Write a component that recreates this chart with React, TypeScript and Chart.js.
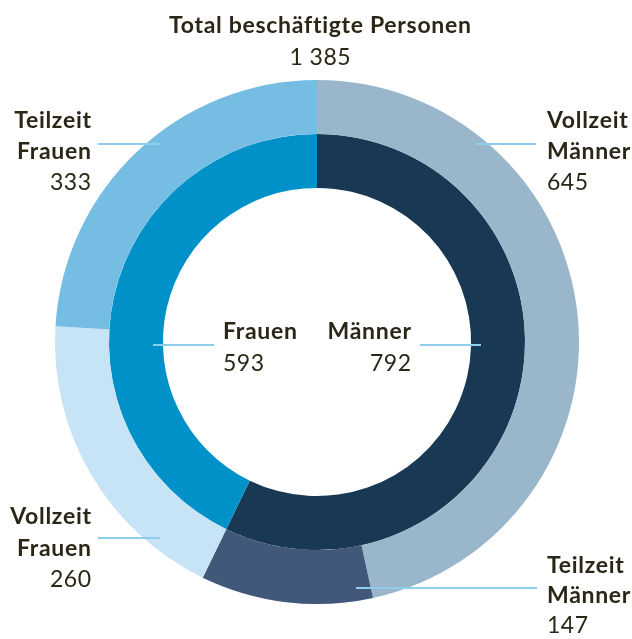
import React, { useEffect, useRef } from "react";
import { Chart, registerables } from "chart.js";

Chart.register(...registerables);

// ---- data ----
const titleText = "Total beschäftigte Personen";
const outerCategories = ["Vollzeit Männer", "Teilzeit Männer", "Vollzeit Frauen", "Teilzeit Frauen"];
const outerValues = [645, 147, 260, 333];
const outerColors = ["#9ab6cb", "#42587a", "#c6e4f6", "#76bde3"];
const innerCategories = ["Männer", "Frauen"];
const innerValues = [792, 593];
const innerColors = ["#193853", "#0091c9"];

const fmt = (v: number) => {
  const s = String(v);
  return s.length > 3 ? s.slice(0, s.length - 3) + "\u00a0" + s.slice(-3) : s;
};
const total = outerValues.reduce((a, b) => a + b, 0);

const W = 632;
const H = 639;
const TEXT = "#2b2616";
const LINE = "#8fcdef";
const FONT = "Lato, 'Open Sans', sans-serif";
const FS = 23;

type Line = { text: string; bold: boolean; baseline: number };
type Lbl = { x: number; align: "left" | "right" | "center"; lines: Line[] };

function block(cat: string, value: number, x: number, align: "left" | "right", baselines: number[]): Lbl {
  const words = cat.split(" ");
  const lines: Line[] = words.map((w, i) => ({ text: w, bold: true, baseline: baselines[i] }));
  lines.push({ text: fmt(value), bold: false, baseline: baselines[words.length] });
  return { x, align, lines };
}

const labels: Lbl[] = [
  { x: 320, align: "center", lines: [
    { text: titleText, bold: true, baseline: 33 },
    { text: fmt(total), bold: false, baseline: 65 },
  ] },
  block(outerCategories[0], outerValues[0], 547, "left", [128, 159, 190]),
  block(outerCategories[1], outerValues[1], 547, "left", [573, 603, 633]),
  block(outerCategories[2], outerValues[2], 91, "right", [524, 556, 587]),
  block(outerCategories[3], outerValues[3], 91, "right", [128, 159, 190]),
  block(innerCategories[0], innerValues[0], 411, "right", [339, 371]),
  block(innerCategories[1], innerValues[1], 223, "left", [339, 371]),
];

const connectors = [
  { x1: 475, x2: 536, y: 144 },
  { x1: 356, x2: 537, y: 588 },
  { x1: 98, x2: 160, y: 538 },
  { x1: 98, x2: 160, y: 144 },
  { x1: 420, x2: 481, y: 345 },
  { x1: 153, x2: 214, y: 345 },
];

export default function App() {
  const ref = useRef<HTMLCanvasElement>(null);
  useEffect(() => {
    if (!ref.current) return;
    const chart = new Chart(ref.current, {
      type: "doughnut",
      data: {
        labels: outerCategories,
        datasets: [
          { data: outerValues, backgroundColor: outerColors, borderWidth: 0 },
          { data: innerValues, backgroundColor: innerColors, borderWidth: 0 },
        ],
      },
      options: {
        responsive: false,
        animation: false,
        cutout: "58.8%",
        layout: { padding: { left: 55, right: 53, top: 80, bottom: 35 } },
        plugins: { legend: { display: false }, title: { display: false }, tooltip: { enabled: false } },
      },
    });
    return () => chart.destroy();
  }, []);

  const L = 31;
  const baseOff = (L - 1.2 * FS) / 2 + 0.987 * FS;

  return (
    <div style={{ position: "fixed", left: 0, top: 0, width: W, height: H, background: "#fff", overflow: "hidden" }}>
      <canvas ref={ref} width={W} height={H} style={{ position: "absolute", left: 0, top: 0 }} />
      {connectors.map((c, i) => (
        <div key={"c" + i} style={{ position: "absolute", left: c.x1, top: c.y - 0.75, width: c.x2 - c.x1, height: 1.5, background: LINE }} />
      ))}
      {labels.map((lb, i) =>
        lb.lines.map((ln, j) => {
          const ls = ln.bold ? 0.7 : 0.5;
          const style: React.CSSProperties = {
            position: "absolute",
            top: ln.baseline - baseOff,
            height: L,
            lineHeight: L + "px",
            fontFamily: FONT,
            fontSize: FS,
            fontWeight: ln.bold ? 700 : 400,
            letterSpacing: ls + "px",
            color: TEXT,
            whiteSpace: "nowrap",
          };
          if (lb.align === "left") style.left = lb.x;
          else if (lb.align === "right") { style.right = W - lb.x - ls; }
          else { style.left = lb.x - 300 + ls / 2; style.width = 600; style.textAlign = "center"; }
          return <div key={i + "-" + j} style={style}>{ln.text}</div>;
        })
      )}
    </div>
  );
}
